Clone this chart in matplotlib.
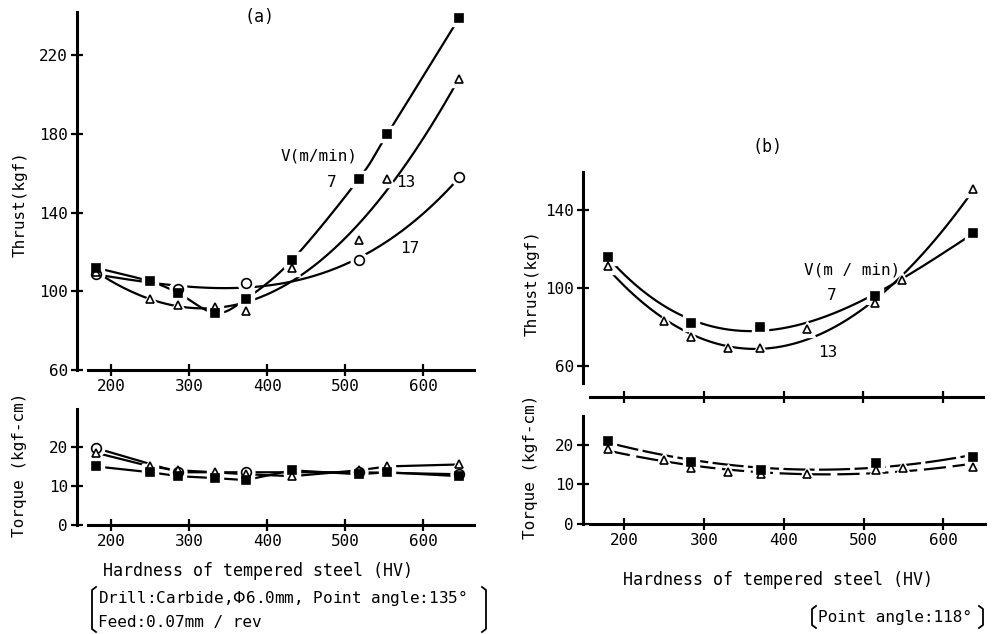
import numpy as np
import matplotlib
matplotlib.use("Agg")
import matplotlib.pyplot as plt
from matplotlib.lines import Line2D

plt.rcParams['font.family'] = ['DejaVu Sans Mono', 'DejaVu Sans']
plt.rcParams['font.size'] = 11.5
plt.rcParams['mathtext.fontset'] = 'dejavusans'

# (a) carbide drill, point angle 135 deg
hv_a = [180, 250, 286, 333, 372, 432, 517, 554, 646]
thrust_a_7 = [112, 105, 99, 89, 96, 116, 157, 180, 239]
thrust_a_13 = [110, 96, 93, 92, 90, 112, 126, 157, 208]
hv_a_17 = [180, 286, 372, 517, 646]
thrust_a_17 = [109, 101, 104, 116, 158]
torque_a_7 = [15, 13.5, 12.5, 12, 11.5, 14, 13, 13.5, 12.5]
torque_a_13 = [18.5, 15, 14, 13.5, 13, 12.5, 14, 15, 15.5]
torque_a_17 = [19.7, 13.5, 13.5, 13.5, 13]

# (b) point angle 118 deg
hv_b_7 = [180, 284, 371, 515, 637]
thrust_b_7 = [116, 82, 80, 96, 128]
hv_b_13 = [180, 250, 284, 330, 371, 429, 515, 549, 637]
thrust_b_13 = [111, 83, 75, 69, 69, 79, 92, 104, 151]
torque_b_7 = [21, 15.7, 13.7, 15.4, 17]
torque_b_13 = [19, 16.2, 14.2, 13.2, 12.6, 12.6, 13.7, 14.2, 14.4]

hv_ticks = [200, 300, 400, 500, 600]

W, H = 997, 634
fig = plt.figure(figsize=(W / 100, H / 100), dpi=100)


def rect(x0, y0, x1, y1):
    # pixel box (top-left origin) -> figure fraction
    return [x0 / W, 1 - y1 / H, (x1 - x0) / W, (y1 - y0) / H]


def style_axes(ax, xlim, ylim, yticks, xlabels=True, offset=8):
    ax.set_xlim(*xlim)
    ax.set_ylim(*ylim)
    for s in ['top', 'right']:
        ax.spines[s].set_visible(False)
    for s in ['left', 'bottom']:
        ax.spines[s].set_linewidth(2.2)
    ax.spines['left'].set_position(('outward', offset))
    ax.set_xticks(hv_ticks)
    ax.set_yticks(yticks)
    ax.tick_params(direction='inout', length=9, width=1.6, pad=2)
    if not xlabels:
        ax.set_xticklabels([])
    ax.patch.set_visible(False)


def fit_curve(ax, x, y, deg=3, **kw):
    p = np.polyfit(x, y, deg)
    xs = np.linspace(min(x), max(x), 200)
    ax.plot(xs, np.polyval(p, xs), color='black', lw=1.6, zorder=2, **kw)


def smooth_through(ax, x, y, n=30, **kw):
    # Catmull-Rom spline passing through every point
    x = np.asarray(x, float)
    y = np.asarray(y, float)
    px = np.concatenate([[2 * x[0] - x[1]], x, [2 * x[-1] - x[-2]]])
    py = np.concatenate([[2 * y[0] - y[1]], y, [2 * y[-1] - y[-2]]])
    t = np.linspace(0, 1, n)
    xs, ys = [], []
    for i in range(1, len(px) - 2):
        for arr, out in ((px, xs), (py, ys)):
            p0, p1, p2, p3 = arr[i - 1], arr[i], arr[i + 1], arr[i + 2]
            out.extend(0.5 * (2 * p1 + (p2 - p0) * t
                              + (2 * p0 - 5 * p1 + 4 * p2 - p3) * t ** 2
                              + (3 * p1 - p0 - 3 * p2 + p3) * t ** 3))
    ax.plot(xs, ys, color='black', lw=1.6, zorder=2, **kw)


def marks(ax, x, y, marker, filled, ms=6):
    ax.plot(x, y, ls='none', marker=marker, ms=ms + 5, mfc='white',
            mec='white', zorder=3)
    ax.plot(x, y, ls='none', marker=marker, ms=ms,
            mfc='black' if filled else 'white', mec='black', mew=1.2,
            zorder=4)


# ---- (a) thrust ----
ax1 = fig.add_axes(rect(88, 12, 474, 370))
style_axes(ax1, (170, 665), (60, 242), [60, 100, 140, 180, 220], offset=8)
smooth_through(ax1, hv_a, thrust_a_7)
fit_curve(ax1, hv_a, thrust_a_13, deg=4)
fit_curve(ax1, hv_a_17, thrust_a_17)
marks(ax1, hv_a_17, thrust_a_17, 'o', False, ms=7)
marks(ax1, hv_a, thrust_a_13, '^', False, ms=6)
marks(ax1, hv_a, thrust_a_7, 's', True, ms=6)
ax1.text(466, 169, 'V(m/min)', ha='center', va='center')
ax1.text(482, 155.5, '7', ha='center', va='center')
ax1.text(578, 155.5, '13', ha='center', va='center')
ax1.text(582, 122, '17', ha='center', va='center')

# ---- (a) torque ----
ax2 = fig.add_axes(rect(88, 409, 474, 525))
style_axes(ax2, (170, 665), (0, 29.7), [0, 10, 20], offset=8)
ax2.plot(hv_a_17, torque_a_17, color='black', lw=1.6, zorder=2)
ax2.plot(hv_a, torque_a_13, color='black', lw=1.6, zorder=2)
ax2.plot(hv_a, torque_a_7, color='black', lw=1.6, zorder=2)
marks(ax2, hv_a_17, torque_a_17, 'o', False, ms=7)
marks(ax2, hv_a, torque_a_13, '^', False, ms=6)
marks(ax2, hv_a, torque_a_7, 's', True, ms=6)

# ---- (b) thrust ----
ax3 = fig.add_axes(rect(590, 172, 983, 397))
style_axes(ax3, (157.5, 650), (44, 159.5), [60, 100, 140], xlabels=False,
           offset=5)
ax3.spines['left'].set_bounds(51, 159.5)
fit_curve(ax3, hv_b_7, thrust_b_7)
fit_curve(ax3, hv_b_13, thrust_b_13)
marks(ax3, hv_b_13, thrust_b_13, '^', False, ms=6)
marks(ax3, hv_b_7, thrust_b_7, 's', True, ms=6)
ax3.text(486, 109, 'V(m / min)', ha='center', va='center')
ax3.text(461, 96, '7', ha='center', va='center')
ax3.text(455, 67, '13', ha='center', va='center')

# ---- (b) torque ----
ax4 = fig.add_axes(rect(590, 416, 985, 524))
style_axes(ax4, (157.5, 652), (0, 27.3), [0, 10, 20], offset=5)
fit_curve(ax4, hv_b_7, torque_b_7, deg=2, dashes=(14, 2))
fit_curve(ax4, hv_b_13, torque_b_13, deg=2, dashes=(10, 3))
marks(ax4, hv_b_13, torque_b_13, '^', False, ms=6)
marks(ax4, hv_b_7, torque_b_7, 's', True, ms=6)

# axis titles and panel letters
fig.text(260 / W, 1 - 17 / H, '(a)', ha='center', va='center', fontsize=12)
fig.text(767 / W, 1 - 147 / H, '(b)', ha='center', va='center', fontsize=12)
fig.text(20 / W, 1 - 204 / H, 'Thrust(kgf)', rotation=90, ha='center',
         va='center')
fig.text(20 / W, 1 - 465 / H, 'Torque (kgf-cm)', rotation=90, ha='center',
         va='center')
fig.text(532 / W, 1 - 283 / H, 'Thrust(kgf)', rotation=90, ha='center',
         va='center')
fig.text(530 / W, 1 - 467 / H, 'Torque (kgf-cm)', rotation=90, ha='center',
         va='center')
fig.text(258 / W, 1 - 571 / H, 'Hardness of tempered steel (HV)',
         ha='center', va='center', fontsize=12)
fig.text(778 / W, 1 - 580 / H, 'Hardness of tempered steel (HV)',
         ha='center', va='center', fontsize=12)

# drill condition notes with square brackets
fig.text(98 / W, 1 - 598 / H,
         'Drill:Carbide,$\\Phi$6.0mm, Point angle:135\u00b0',
         ha='left', va='center')
fig.text(98 / W, 1 - 622 / H, 'Feed:0.07mm / rev', ha='left', va='center')
fig.text(818 / W, 1 - 617 / H, 'Point angle:118\u00b0', ha='left',
         va='center')


def bracket(x, y0, y1, side):
    d = 4 if side == 'left' else -4
    xs = [x + d, x, x, x + d]
    ys = [y0, y0 + 3, y1 - 3, y1]
    fig.add_artist(Line2D([v / W for v in xs], [1 - v / H for v in ys],
                          color='black', lw=1.3))


bracket(92, 587, 632, 'left')
bracket(486, 587, 632, 'right')
bracket(812, 606, 628, 'left')
bracket(983, 606, 628, 'right')

fig.savefig('out.png', dpi=100)
